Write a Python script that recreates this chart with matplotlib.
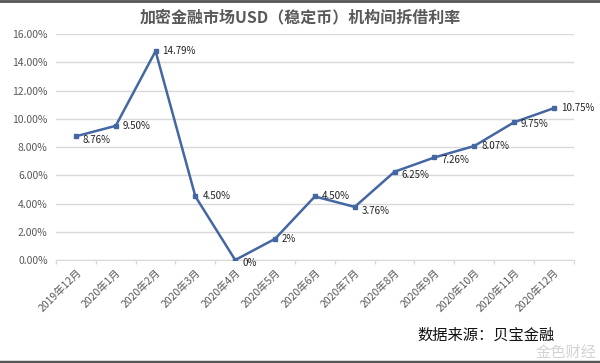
import matplotlib.pyplot as plt
from matplotlib.ticker import FuncFormatter, FixedLocator
from matplotlib.lines import Line2D

plt.rcParams['font.family'] = ['Noto Sans CJK SC', 'DejaVu Sans']

months = ['2019年12月', '2020年1月', '2020年2月', '2020年3月', '2020年4月', '2020年5月',
          '2020年6月', '2020年7月', '2020年8月', '2020年9月', '2020年10月', '2020年11月',
          '2020年12月']
rates = [8.76, 9.50, 14.79, 4.50, 0.0, 1.5, 4.50, 3.76, 6.25, 7.26, 8.07, 9.75, 10.75]
point_labels = ['8.76%', '9.50%', '14.79%', '4.50%', '0%', '2%', '4.50%', '3.76%',
                '6.25%', '7.26%', '8.07%', '9.75%', '10.75%']
label_dy = [-3, 0, 0, 0, -2, 0, 0, -3, -2, -2, 0, -1, 0]

fig = plt.figure(figsize=(6, 3.63), dpi=100)
ax = fig.add_axes([0.0933, 0.2837, 0.863, 0.6226])

x = list(range(len(months)))
ax.plot(x, rates, color='#4466A3', linewidth=1.8, marker='s', markersize=3.5,
        markerfacecolor='#4466A3', markeredgecolor='#4466A3', zorder=3)

for xi, yi, lab, dy in zip(x, rates, point_labels, label_dy):
    ax.annotate(lab, (xi, yi), xytext=(5, dy), textcoords='offset points',
                fontsize=7, va='center', ha='left', color='#222222')

ax.set_xlim(-0.5, len(months) - 0.5)
ax.set_ylim(0, 16)
ax.set_yticks([0, 2, 4, 6, 8, 10, 12, 14, 16])
ax.yaxis.set_major_formatter(FuncFormatter(lambda v, p: f'{v:.2f}%'))
ax.grid(axis='y', color='#D9D9D9', linewidth=1)
ax.set_axisbelow(True)
for s in ['left', 'right', 'top']:
    ax.spines[s].set_visible(False)
ax.spines['bottom'].set_color('#D9D9D9')
ax.tick_params(axis='y', length=0, labelsize=7.5, labelcolor='#595959', pad=6)
ax.tick_params(axis='x', which='major', length=0, labelsize=7.5, labelcolor='#595959', pad=5)
ax.set_xticks(x)
ax.set_xticklabels(months, rotation=45, ha='right', rotation_mode='anchor')
ax.xaxis.set_minor_locator(FixedLocator([i - 0.5 for i in range(len(months) + 1)]))
ax.tick_params(axis='x', which='minor', length=3, color='#D9D9D9', width=1)

fig.text(0.5, 0.952, '加密金融市场USD（稳定币）机构间拆借利率', ha='center', va='center',
         fontsize=11.5, fontweight='bold', color='#595959')
fig.text(0.925, 0.077, '数据来源：贝宝金融', ha='right', va='center',
         fontsize=11, color='#111111')
fig.text(0.995, 0.03, '金色财经', ha='right', va='center', fontsize=11,
         color='#C8C8C8', alpha=0.8)

fig.add_artist(Line2D([0, 1], [0.997, 0.997], transform=fig.transFigure,
                      color='#555555', linewidth=2))
fig.add_artist(Line2D([0, 1], [0.004, 0.004], transform=fig.transFigure,
                      color='#555555', linewidth=2.5))

fig.savefig('out.png', dpi=100)
